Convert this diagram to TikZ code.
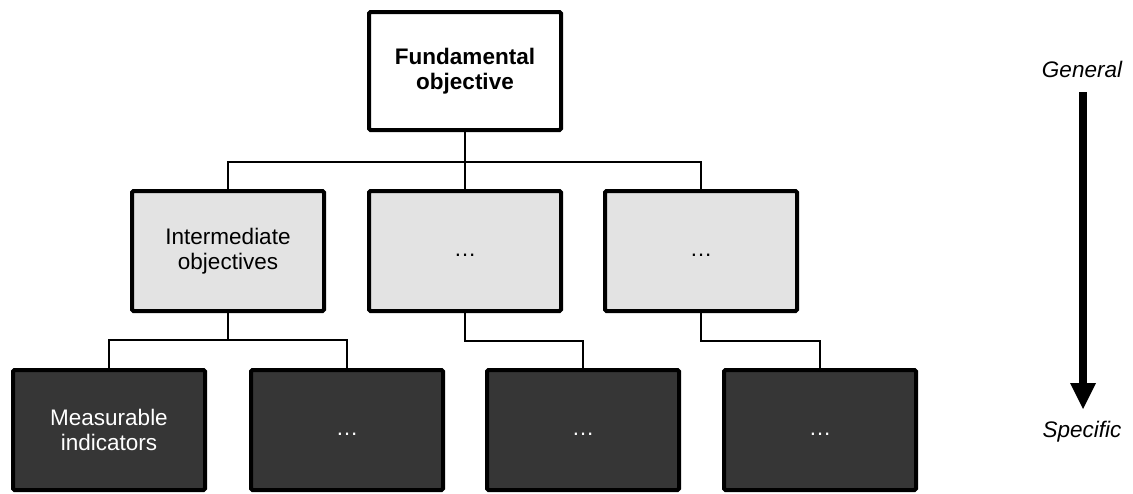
\documentclass[tikz,border=0pt]{standalone}
\usepackage{fontspec}
\setmainfont{Liberation Sans}
\usetikzlibrary{arrows.meta}
\definecolor{midgray}{HTML}{E3E3E3}
\definecolor{darkfill}{HTML}{363636}
\tikzset{
  box/.style={draw=black, line width=4pt, rounded corners=1.5pt, inner sep=0pt,
    minimum width=192pt, minimum height=120pt, align=center,
    font=\fontsize{22.5}{25}\selectfont},
  topbox/.style={box, fill=white, minimum height=118pt, font=\fontsize{22.5}{25}\selectfont\bfseries},
  midbox/.style={box, fill=midgray, text=black},
  lowbox/.style={box, fill=darkfill, text=white},
  link/.style={draw=black, line width=2pt},
  scale label/.style={font=\fontsize{22.5}{25}\selectfont\itshape, inner sep=0pt, anchor=base},
  bigarrow/.style={line width=8pt, -{Triangle[width=26pt,length=26pt,line width=0pt]}}
}
\begin{document}
\begin{tikzpicture}[x=1pt, y=-1pt]
  \useasboundingbox (0,0) rectangle (1133,493);

  % hierarchy of objectives
  \node[topbox] (top) at (465,71) {Fundamental\\objective};

  \node[midbox] (m1) at (228,251) {Intermediate\\objectives};
  \node[midbox] (m2) at (465,251) {\strut…};
  \node[midbox] (m3) at (701,251) {\strut…};

  \node[lowbox] (b1) at (109,430) {Measurable\\indicators};
  \node[lowbox] (b2) at (347,430) {\strut…};
  \node[lowbox] (b3) at (583,430) {\strut…};
  \node[lowbox] (b4) at (820,430) {\strut…};

  % tree connectors
  \draw[link] (top.south) -- (m2.north);
  \draw[link] (m1.north) -- ++(0,-27) -| (m3.north);

  \draw[link] (m1.south) -- ++(0,27) coordinate (j1);
  \draw[link] (j1) -| (b1.north);
  \draw[link] (j1) -| (b2.north);
  \draw[link] (m2.south) -- ++(0,28) -| (b3.north);
  \draw[link] (m3.south) -- ++(0,28) -| (b4.north);

  % general-to-specific scale
  \node[scale label] (gen) at (1082,77) {General};
  \node[scale label] (spec) at (1082,437) {Specific};
  \coordinate (arrowstart) at (1083,92);
  \coordinate (arrowend) at (1083,409);
  \draw[bigarrow] (arrowstart) -- (arrowend);
\end{tikzpicture}
\end{document}
